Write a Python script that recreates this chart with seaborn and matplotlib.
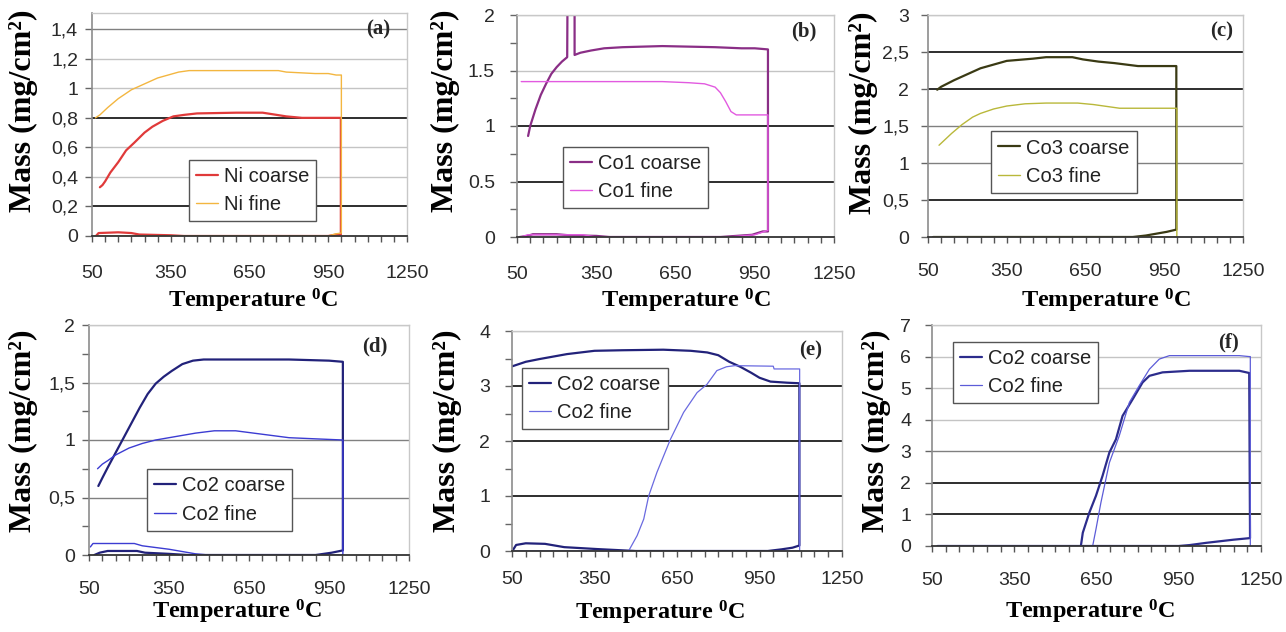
import numpy as np
import pandas as pd
import matplotlib
matplotlib.use("Agg")
import matplotlib.pyplot as plt
import seaborn as sns

sns.set_theme(style="white")
plt.rcParams["font.family"] = ["Liberation Sans", "DejaVu Sans"]
plt.rcParams["mathtext.fontset"] = "custom"
plt.rcParams["mathtext.rm"] = "Liberation Serif:bold"
plt.rcParams["mathtext.bf"] = "Liberation Serif:bold"
plt.rcParams["mathtext.it"] = "Liberation Serif:bold"

# ---------------- data (temperature in degC, mass in mg/cm2) ----------------
# (a) Ni
a_coarse_T = [65, 75, 150, 200, 230, 350, 400, 950, 980, 998, 998, 950, 850, 790, 700, 600, 450, 400, 360, 320, 280, 250, 210, 180, 150, 120, 100, 90, 80]
a_coarse_m = [0.0, 0.02, 0.025, 0.02, 0.01, 0.005, 0.0, 0.0, 0.01, 0.01, 0.80, 0.80, 0.80, 0.81, 0.835, 0.835, 0.83, 0.82, 0.81, 0.78, 0.74, 0.70, 0.63, 0.58, 0.50, 0.43, 0.37, 0.345, 0.33]
a_fine_T = [60, 950, 980, 1000, 1000, 980, 950, 900, 790, 760, 600, 420, 380, 340, 300, 250, 200, 150, 110, 80, 63]
a_fine_m = [0.0, 0.0, 0.015, 0.02, 1.09, 1.09, 1.10, 1.10, 1.11, 1.12, 1.12, 1.12, 1.11, 1.09, 1.07, 1.03, 0.99, 0.93, 0.87, 0.82, 0.80]

# (b) Co1
b_coarse_T = [60, 90, 110, 200, 250, 350, 400, 820, 880, 940, 980, 1000, 1000, 950, 900, 800, 600, 450, 380, 330, 290, 268, 268, 242, 240, 220, 200, 180, 160, 140, 120, 100, 92]
b_coarse_m = [0.0, 0.01, 0.025, 0.025, 0.015, 0.01, 0.0, 0.0, 0.01, 0.02, 0.05, 0.05, 1.69, 1.70, 1.70, 1.71, 1.72, 1.71, 1.70, 1.68, 1.66, 1.64, 2.5, 2.5, 1.62, 1.58, 1.53, 1.47, 1.38, 1.28, 1.15, 1.00, 0.91]
b_fine_T = [65, 90, 300, 350, 850, 950, 1000, 1000, 960, 880, 860, 840, 820, 800, 760, 700, 600, 300, 66]
b_fine_m = [0.0, 0.02, 0.02, 0.0, 0.0, 0.02, 0.06, 1.10, 1.10, 1.10, 1.13, 1.22, 1.30, 1.35, 1.38, 1.39, 1.40, 1.40, 1.40]

# (c) Co3
c_coarse_T = [70, 830, 880, 920, 960, 996, 996, 900, 850, 760, 700, 640, 600, 500, 450, 350, 300, 250, 200, 150, 100, 85]
c_coarse_m = [0.0, 0.0, 0.02, 0.045, 0.07, 0.10, 2.31, 2.31, 2.31, 2.35, 2.37, 2.40, 2.43, 2.43, 2.41, 2.38, 2.33, 2.28, 2.20, 2.12, 2.03, 1.99]
c_fine_T = [70, 998, 998, 900, 780, 740, 680, 620, 500, 420, 350, 300, 250, 220, 180, 140, 110, 92]
c_fine_m = [0.0, 0.0, 1.74, 1.74, 1.74, 1.76, 1.79, 1.81, 1.81, 1.80, 1.77, 1.73, 1.67, 1.62, 1.52, 1.40, 1.30, 1.24]

# (d) Co2
d_coarse_T = [70, 90, 120, 230, 260, 350, 420, 900, 960, 1002, 1002, 950, 800, 600, 480, 440, 400, 360, 330, 300, 270, 240, 210, 180, 150, 120, 100, 85]
d_coarse_m = [0.0, 0.02, 0.035, 0.035, 0.02, 0.01, 0.0, 0.0, 0.02, 0.04, 1.68, 1.69, 1.70, 1.70, 1.70, 1.69, 1.66, 1.60, 1.55, 1.49, 1.40, 1.28, 1.15, 1.02, 0.89, 0.76, 0.67, 0.60]
d_fine_T = [55, 65, 220, 250, 300, 350, 400, 450, 500, 1002, 1002, 900, 800, 700, 600, 520, 450, 400, 300, 250, 200, 150, 120, 100, 82]
d_fine_m = [0.07, 0.10, 0.10, 0.08, 0.065, 0.05, 0.03, 0.01, 0.0, 0.0, 1.00, 1.01, 1.02, 1.05, 1.08, 1.08, 1.06, 1.04, 1.00, 0.97, 0.93, 0.87, 0.82, 0.79, 0.75]

# (e) Co2
e_coarse_T = [55, 65, 100, 170, 240, 360, 500, 980, 1030, 1070, 1095, 1095, 1050, 990, 950, 920, 880, 840, 800, 760, 700, 600, 450, 350, 250, 150, 100, 52]
e_coarse_m = [0.03, 0.11, 0.14, 0.13, 0.07, 0.035, 0.0, 0.0, 0.03, 0.06, 0.10, 3.05, 3.06, 3.08, 3.15, 3.24, 3.35, 3.44, 3.56, 3.61, 3.64, 3.66, 3.65, 3.64, 3.58, 3.49, 3.44, 3.36]
e_fine_T = [50, 474, 505, 529, 547, 577, 626, 674, 723, 759, 795, 830, 860, 1000, 1003, 1096, 1096, 1000]
e_fine_m = [0.0, 0.0, 0.28, 0.58, 1.0, 1.43, 2.03, 2.52, 2.88, 3.03, 3.28, 3.35, 3.37, 3.36, 3.31, 3.31, 0.0, 0.0]

# (f) Co2
f_coarse_T = [70, 593, 600, 624, 648, 672, 697, 721, 745, 782, 818, 843, 891, 989, 1171, 1207, 1210, 1150, 1110, 1050, 990, 950, 600]
f_coarse_m = [0.0, 0.0, 0.42, 1.06, 1.59, 2.22, 2.96, 3.38, 4.12, 4.65, 5.18, 5.39, 5.50, 5.55, 5.55, 5.48, 0.25, 0.20, 0.16, 0.10, 0.03, 0.0, 0.0]
f_fine_T = [70, 636, 648, 666, 697, 733, 770, 806, 843, 879, 916, 1171, 1207, 1211, 1211]
f_fine_m = [0.0, 0.0, 0.53, 1.37, 2.64, 3.49, 4.55, 5.08, 5.60, 5.92, 6.03, 6.03, 6.00, 6.00, 0.0]

x_ticks = [50, 350, 650, 950, 1250]

a_yticks = [0, 0.2, 0.4, 0.6, 0.8, 1.0, 1.2, 1.4]
a_ylabels = ["0", "0,2", "0,4", "0,6", "0,8", "1", "1,2", "1,4"]
b_yticks = [0, 0.5, 1, 1.5, 2]
b_ylabels = ["0", "0.5", "1", "1.5", "2"]
c_yticks = [0, 0.5, 1, 1.5, 2, 2.5, 3]
c_ylabels = ["0", "0,5", "1", "1,5", "2", "2,5", "3"]
d_yticks = [0, 0.5, 1, 1.5, 2]
d_ylabels = ["0", "0,5", "1", "1,5", "2"]
e_yticks = [0, 1, 2, 3, 4]
e_ylabels = ["0", "1", "2", "3", "4"]
f_yticks = [0, 1, 2, 3, 4, 5, 6, 7]
f_ylabels = ["0", "1", "2", "3", "4", "5", "6", "7"]

# ---------------- styling / layout ----------------
W, H = 1286, 632
DARK, MED, LIGHT = "#1e1e1e", "#808080", "#c4c4c4"

panels = [
    dict(tag="(a)", box=(92, 13, 407, 236), ylim=1.51, yt=a_yticks, yl=a_ylabels, ymin=None,
         grid=[None, DARK, LIGHT, LIGHT, DARK, LIGHT, LIGHT, MED],
         series=[("Ni coarse", a_coarse_T, a_coarse_m, "#e03a3a", 1.6),
                 ("Ni fine", a_fine_T, a_fine_m, "#f3b640", 1.0)],
         leg=(0.30, 0.063, 0.42, 0.28), xpad=27, ypad=12, tagpos=(0.946, 0.97),
         ylab=(-0.219, 0.56), xlab=(0.51, -0.29)),
    dict(tag="(b)", box=(517, 15, 834, 237), ylim=2, yt=b_yticks, yl=b_ylabels, ymin=0.25,
         grid=[None, DARK, DARK, LIGHT, LIGHT],
         series=[("Co1 coarse", b_coarse_T, b_coarse_m, "#8a2e86", 1.6),
                 ("Co1 fine", b_fine_T, b_fine_m, "#e25ae0", 1.0)],
         leg=(0.132, 0.113, 0.483, 0.307), xpad=27, ypad=20, tagpos=(0.946, 0.97),
         ylab=(-0.227, 0.57), xlab=(0.533, -0.288)),
    dict(tag="(c)", box=(928, 15, 1243, 237), ylim=3, yt=c_yticks, yl=c_ylabels, ymin=None,
         grid=[None, DARK, MED, MED, DARK, DARK, LIGHT],
         series=[("Co3 coarse", c_coarse_T, c_coarse_m, "#3a3a14", 1.6),
                 ("Co3 fine", c_fine_T, c_fine_m, "#b9b83a", 1.0)],
         leg=(0.187, 0.198, 0.489, 0.279), xpad=24, ypad=17, tagpos=(0.97, 0.97),
         ylab=(-0.206, 0.56), xlab=(0.565, -0.288)),
    dict(tag="(d)", box=(89, 325, 409, 555), ylim=2, yt=d_yticks, yl=d_ylabels, ymin=0.25,
         grid=[None, MED, MED, LIGHT, LIGHT],
         series=[("Co2 coarse", d_coarse_T, d_coarse_m, "#22227a", 1.6),
                 ("Co2 fine", d_fine_T, d_fine_m, "#3c3cd2", 1.0)],
         leg=(0.15, 0.091, 0.516, 0.296), xpad=24, ypad=12, tagpos=(0.934, 0.95),
         ylab=(-0.206, 0.54), xlab=(0.463, -0.248)),
    dict(tag="(e)", box=(512, 331, 842, 551), ylim=4, yt=e_yticks, yl=e_ylabels, ymin=0.5,
         grid=[None, DARK, DARK, DARK, LIGHT],
         series=[("Co2 coarse", e_coarse_T, e_coarse_m, "#22227a", 1.6),
                 ("Co2 fine", e_fine_T, e_fine_m, "#6a6ae0", 0.9)],
         leg=(0.018, 0.568, 0.467, 0.25), xpad=18, ypad=20, tagpos=(0.94, 0.955),
         ylab=(-0.197, 0.545), xlab=(0.448, -0.28)),
    dict(tag="(f)", box=(932, 325, 1261, 546), ylim=7, yt=f_yticks, yl=f_ylabels, ymin=None,
         grid=[None, DARK, DARK, MED, LIGHT, LIGHT, LIGHT, LIGHT],
         series=[("Co2 coarse", f_coarse_T, f_coarse_m, "#2c2c8c", 1.6),
                 ("Co2 fine", f_fine_T, f_fine_m, "#5c5cd8", 0.9)],
         leg=(0.033, 0.633, 0.502, 0.304), xpad=24, ypad=19, tagpos=(0.933, 0.964),
         ylab=(-0.17, 0.52), xlab=(0.48, -0.30)),
]

SERIF = ["Liberation Serif", "DejaVu Serif"]
fig = plt.figure(figsize=(W / 100, H / 100), dpi=100)

for p in panels:
    l, t, r, b = p["box"]
    ax = fig.add_axes([l / W, 1 - b / H, (r - l) / W, (b - t) / H])
    ax.set_facecolor("white")
    for name, T, m, col, lw in p["series"]:
        df = pd.DataFrame({"T": T, "mass": m})
        sns.lineplot(data=df, x="T", y="mass", sort=False, estimator=None,
                     color=col, lw=lw, ax=ax, label=name)
    ax.set_xlim(50, 1250)
    ax.set_ylim(0, p["ylim"])
    ax.set_xticks(x_ticks)
    ax.set_xticklabels([str(v) for v in x_ticks])
    ax.set_xticks(np.arange(50, 1251, 50), minor=True)
    ax.set_yticks(p["yt"])
    ax.set_yticklabels(p["yl"])
    if p["ymin"]:
        ax.set_yticks(np.arange(0, p["ylim"] + 1e-9, p["ymin"]), minor=True)
    ax.grid(False)
    for v, c in zip(p["yt"], p["grid"]):
        if c is None:
            continue
        ax.axhline(v, color=c, lw=1.3 if c == DARK else 1.0, zorder=0.5)
    for s in ("top", "right"):
        ax.spines[s].set_color("#c8c8c8")
        ax.spines[s].set_linewidth(1.0)
    ax.spines["left"].set_color("#8c8c8c")
    ax.spines["left"].set_linewidth(1.2)
    ax.spines["bottom"].set_color("#333333")
    ax.spines["bottom"].set_linewidth(1.3)
    ax.tick_params(axis="x", which="both", direction="out", length=4, width=1,
                   color="#555555", bottom=True, labelsize=14, labelcolor="#2a2a2a",
                   pad=(p["xpad"] - 4) * 0.72)
    ax.tick_params(axis="y", which="both", direction="out", length=5, width=1,
                   color="#666666", left=True, labelsize=14, labelcolor="#2a2a2a",
                   pad=(p["ypad"] - 5) * 0.72)
    ax.set_xlabel("Temperature $^{0}$C", family=SERIF, fontweight="bold",
                  fontsize=17.5, color="black", va="center")
    ax.xaxis.set_label_coords(*p["xlab"])
    ax.set_ylabel("Mass (mg/cm\u00b2)", family=SERIF, fontweight="bold",
                  fontsize=23, color="black", va="center")
    ax.yaxis.set_label_coords(*p["ylab"])
    ax.text(p["tagpos"][0], p["tagpos"][1], p["tag"], transform=ax.transAxes,
            ha="right", va="top", family=SERIF, fontweight="bold", fontsize=15)
    leg = ax.legend(loc="center", bbox_to_anchor=p["leg"], fontsize=14.5,
                    handlelength=1.1, handletextpad=0.3, borderpad=0.35,
                    labelspacing=0.45, frameon=True, fancybox=False,
                    framealpha=1, edgecolor="#555555")
    leg.get_frame().set_linewidth(1.0)
    for txt in leg.get_texts():
        txt.set_color("#222222")

fig.savefig("out.png", dpi=100, facecolor="white")
